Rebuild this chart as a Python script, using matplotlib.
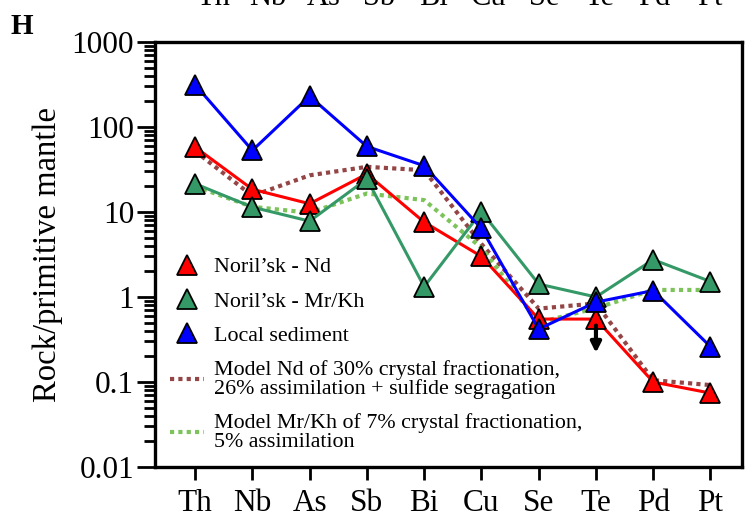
import numpy as np
import matplotlib.pyplot as plt
from matplotlib.lines import Line2D
from matplotlib.ticker import FixedLocator, FixedFormatter, LogLocator, NullFormatter

plt.rcParams['font.family'] = ['Liberation Serif', 'DejaVu Serif']

# Elements, normalised to primitive mantle
elements = ["Th", "Nb", "As", "Sb", "Bi", "Cu", "Se", "Te", "Pd", "Pt"]

norilsk_nd = [58, 18.5, 12.5, 28, 7.6, 3.0, 0.55, 0.55, 0.10, 0.074]
norilsk_mrkh = [21.5, 11.4, 7.8, 24.5, 1.32, 10.1, 1.42, 1.0, 2.75, 1.52]
local_sediment = [315, 53, 230, 59, 35, 6.4, 0.42, 0.87, 1.19, 0.26]

model_nd = [52, 15.5, 27, 34, 31, 4.2, 0.73, 0.84, 0.105, 0.092]
model_mrkh = [20, 11.5, 9.8, 16.5, 13.8, 3.8, 0.50, 0.74, 1.21, 1.21]

yticks = [0.01, 0.1, 1, 10, 100, 1000]
ytick_labels = ["0.01", "0.1", "1", "10", "100", "1000"]

red = "#ff0000"
green = "#349966"
blue = "#0000ff"
brown = "#944646"
light_green = "#7cc45a"

fig = plt.figure(figsize=(7.51, 5.19), dpi=100)
ax = fig.add_axes([0.2064, 0.1002, 0.7816, 0.8189])

x = np.arange(len(elements))
dot = (0, (1, 1))

ax.plot(x, model_nd, color=brown, lw=3, linestyle=dot, zorder=2)
ax.plot(x, model_mrkh, color=light_green, lw=3, linestyle=dot, zorder=2)

marker_kw = dict(marker="^", markersize=14, markeredgecolor="black", markeredgewidth=1.3, lw=2.2)
ax.plot(x, norilsk_nd, color=red, markerfacecolor=red, zorder=3, **marker_kw)
ax.plot(x, norilsk_mrkh, color=green, markerfacecolor=green, zorder=4, **marker_kw)
ax.plot(x, local_sediment, color=blue, markerfacecolor=blue, zorder=5, **marker_kw)

# Te for Noril'sk Nd is an upper limit
te = elements.index("Te")
ax.annotate("", xy=(te, norilsk_nd[te] * 0.40), xytext=(te, norilsk_nd[te] * 0.84),
            arrowprops=dict(arrowstyle="-|>,head_width=0.3,head_length=0.6",
                            color="black", lw=3, shrinkA=0, shrinkB=0),
            zorder=6)

ax.set_yscale("log")
ax.set_ylim(0.01, 1000)
ax.set_xlim(-0.7, 9.55)

ax.yaxis.set_major_locator(FixedLocator(yticks))
ax.yaxis.set_major_formatter(FixedFormatter(ytick_labels))
ax.yaxis.set_minor_locator(LogLocator(base=10, subs=np.arange(2, 10), numticks=20))
ax.yaxis.set_minor_formatter(NullFormatter())

ax.set_xticks(x)
ax.set_xticklabels(elements)

ax.tick_params(axis="y", which="major", direction="out", length=13, width=2, labelsize=22.5, pad=2)
ax.tick_params(axis="y", which="minor", direction="out", length=8, width=2)
ax.tick_params(axis="x", which="major", direction="out", length=9, width=2, labelsize=22.5, pad=7)

for side in ["left", "right", "top", "bottom"]:
    ax.spines[side].set_linewidth(2.4)

ax.set_ylabel("Rock/primitive mantle", fontsize=23.5, labelpad=6)

handles = [
    Line2D([], [], linestyle="none", marker="^", markersize=14, markerfacecolor=red,
           markeredgecolor="black", markeredgewidth=1.3),
    Line2D([], [], linestyle="none", marker="^", markersize=14, markerfacecolor=green,
           markeredgecolor="black", markeredgewidth=1.3),
    Line2D([], [], linestyle="none", marker="^", markersize=14, markerfacecolor=blue,
           markeredgecolor="black", markeredgewidth=1.3),
    Line2D([], [], color=brown, lw=3, linestyle=dot),
    Line2D([], [], color=light_green, lw=3, linestyle=dot),
]
labels = [
    "Noril\u2019sk - Nd",
    "Noril\u2019sk - Mr/Kh",
    "Local sediment",
    "Model Nd of 30% crystal fractionation,\n26% assimilation + sulfide segragation",
    "Model Mr/Kh of 7% crystal fractionation,\n5% assimilation",
]
leg = ax.legend(handles, labels, loc="upper left", bbox_to_anchor=(0.0, 0.53),
                frameon=False, fontsize=15.8, handlelength=1.55, handletextpad=0.45,
                labelspacing=0.63, borderaxespad=0.3)
for t in leg.get_texts():
    t.set_linespacing(1.0)

fig.text(22 / 751, 1 - 26 / 519, "H", fontsize=21, fontweight="bold", ha="center", va="center")

# tick labels of the panel above, cut off by the top edge
for i, name in enumerate(elements):
    fig.text((213 + 55.2 * i) / 751, 1 - 5 / 519, name, fontsize=22, ha="center", va="baseline")

fig.savefig("out.png", dpi=100)
